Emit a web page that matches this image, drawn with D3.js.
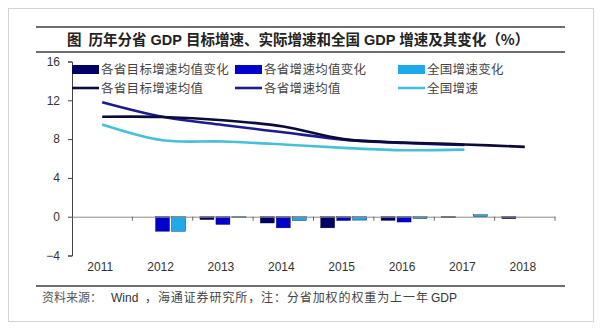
<!DOCTYPE html>
<html><head><meta charset="utf-8">
<script src="https://cdn.jsdelivr.net/npm/d3@7"></script>
<style>
body{margin:0;background:#fff;}
svg{display:block;}
</style></head>
<body>
<svg id="c" width="601" height="328"></svg>
<script>
const years = ["2011","2012","2013","2014","2015","2016","2017","2018"];
const yTicks = [16,12,8,4,0,-4];
const barSeries = ["各省目标增速均值变化","各省增速均值变化","全国增速变化"];
const lineSeries = ["各省目标增速均值","各省增速均值","全国增速"];
const targetChange = [null, 0, -0.3, -0.65, -1.15, -0.38, -0.05, -0.2];
const actualChange = [null, -1.5, -0.8, -1.15, -0.4, -0.55, 0, null];
const nationChange = [null, -1.5, -0.05, -0.4, -0.35, -0.2, 0.2, null];
const targetMean = [10.3, 10.28, 9.95, 9.3, 8.0, 7.65, 7.45, 7.2];
const actualMean = [11.8, 10.3, 9.45, 8.7, 7.95, 7.6, 7.4, null];
const nationGrowth = [9.5, 7.88, 7.75, 7.45, 7.1, 6.85, 6.92, null];

const barColors = ["#000066","#0000cc","#1eaaea"];
const lineColors = ["#0b0b3a","#1c1c8f","#45c0d6"];

const svg = d3.select("#c");
const cjk = "'Noto Sans CJK SC', 'Liberation Sans', sans-serif";
const lat = "'Liberation Sans', Arial, sans-serif";

// frame
svg.append("rect").attr("x",8.5).attr("y",8.5).attr("width",585).attr("height",313)
  .attr("fill","none").attr("stroke","#d4d4d4").attr("stroke-width",1);
// title rules
[27,52].forEach(y=>svg.append("line").attr("x1",36).attr("x2",565).attr("y1",y).attr("y2",y)
  .attr("stroke","#6e6e6e").attr("stroke-width",2));
svg.append("line").attr("x1",36).attr("x2",565).attr("y1",286).attr("y2",286)
  .attr("stroke","#6e6e6e").attr("stroke-width",2);

const title = svg.append("text").attr("x",67).attr("y",45).attr("font-family",cjk).attr("font-weight","bold")
  .attr("font-size",14.5).attr("fill","#222");
title.append("tspan").text("图");
title.append("tspan").attr("dx",7).text("历年分省");
title.append("tspan").attr("dx",4).attr("font-family",lat).text("GDP");
title.append("tspan").attr("dx",4).text("目标增速、实际增速和全国");
title.append("tspan").attr("dx",4).attr("font-family",lat).text("GDP");
title.append("tspan").attr("dx",4).text("增速及其变化（%）");

const foot = svg.append("text").attr("y",302).attr("font-size",12).attr("fill","#333");
foot.append("tspan").attr("x",42).attr("font-family",cjk).attr("fill","#555").text("资料来源：");
foot.append("tspan").attr("x",111).attr("font-family",lat).text("Wind");
foot.append("tspan").attr("x",145).attr("font-family",cjk).attr("fill","#444").attr("letter-spacing",0.9)
  .text("，海通证券研究所，注：分省加权的权重为上一年");
foot.append("tspan").attr("x",431).attr("font-family",lat).text("GDP");

const x = d3.scaleBand().domain(years).range([72,555]).padding(0);
const y = d3.scaleLinear().domain([-4,16]).range([255.5,61.5]);
const sub = d3.scaleBand().domain(barSeries).range([-23,23]).paddingInner(0.125);

// y axis
const yAxis = svg.append("g").attr("transform","translate(72,0)")
  .call(d3.axisLeft(y).tickValues(yTicks).tickSize(4).tickPadding(8).tickFormat(d3.format("d")));
yAxis.select(".domain").attr("stroke","#444");
yAxis.selectAll(".tick line").attr("stroke","#444");
yAxis.selectAll("text").attr("font-family",lat).attr("font-size",12).attr("fill","#333");

// bars
const barData = [targetChange, actualChange, nationChange];
barData.forEach((arr,si)=>{
  svg.append("g").selectAll("rect").data(years.map((yr,i)=>({yr,v:arr[i]})).filter(d=>d.v!==null && d.v!==0))
    .join("rect")
    .attr("x",d=>x(d.yr)+x.bandwidth()/2+sub(barSeries[si]))
    .attr("width",sub.bandwidth())
    .attr("y",d=>Math.min(y(d.v),y(0)))
    .attr("height",d=>Math.max(1,Math.abs(y(d.v)-y(0))))
    .attr("fill",barColors[si]).attr("stroke","#0a0a30").attr("stroke-width",0.4);
});

// x axis at zero
const xAxis = svg.append("g").attr("transform",`translate(0,${y(0)})`)
  .call(d3.axisBottom(x).tickSize(0).tickFormat(""));
xAxis.select(".domain").attr("stroke","#8a8a8a");
xAxis.selectAll(".tick").remove();
const bounds = years.map(d=>x(d)).concat([x.range()[1]]).slice(1);
svg.append("g").selectAll("line").data(bounds).join("line")
  .attr("x1",d=>d).attr("x2",d=>d).attr("y1",y(0)).attr("y2",y(0)+4)
  .attr("stroke","#666");
svg.append("g").selectAll("text").data(years).join("text")
  .attr("x",d=>x(d)+x.bandwidth()/2-2).attr("y",271)
  .attr("text-anchor","middle").attr("font-family",lat).attr("font-size",12).attr("fill","#333")
  .text(d=>d);

// lines
const lineData = [targetMean, actualMean, nationGrowth];
const lineGen = d3.line().defined(d=>d.v!==null)
  .x(d=>x(d.yr)+x.bandwidth()/2).y(d=>y(d.v)).curve(d3.curveCatmullRom.alpha(0.5));
[1,2,0].forEach(si=>{
  svg.append("path").datum(years.map((yr,i)=>({yr,v:lineData[si][i]})))
    .attr("d",lineGen).attr("fill","none").attr("stroke",lineColors[si])
    .attr("stroke-width",2.6);
});

// legend
const legX = [72,235,398];
barSeries.forEach((s,i)=>{
  const g = svg.append("g");
  g.append("rect").attr("x",legX[i]).attr("y",65).attr("width",27).attr("height",9).attr("fill",barColors[i]);
  g.append("text").attr("x",legX[i]+29).attr("y",74).attr("font-family",cjk).attr("font-size",12.5)
    .attr("letter-spacing",0.3).attr("fill","#444").text(s);
});
lineSeries.forEach((s,i)=>{
  const g = svg.append("g");
  g.append("line").attr("x1",legX[i]).attr("x2",legX[i]+27).attr("y1",88).attr("y2",88)
    .attr("stroke",lineColors[i]).attr("stroke-width",2.6);
  g.append("text").attr("x",legX[i]+29).attr("y",92.5).attr("font-family",cjk).attr("font-size",12.5)
    .attr("letter-spacing",0.3).attr("fill","#444").text(s);
});
</script>
</body></html>
